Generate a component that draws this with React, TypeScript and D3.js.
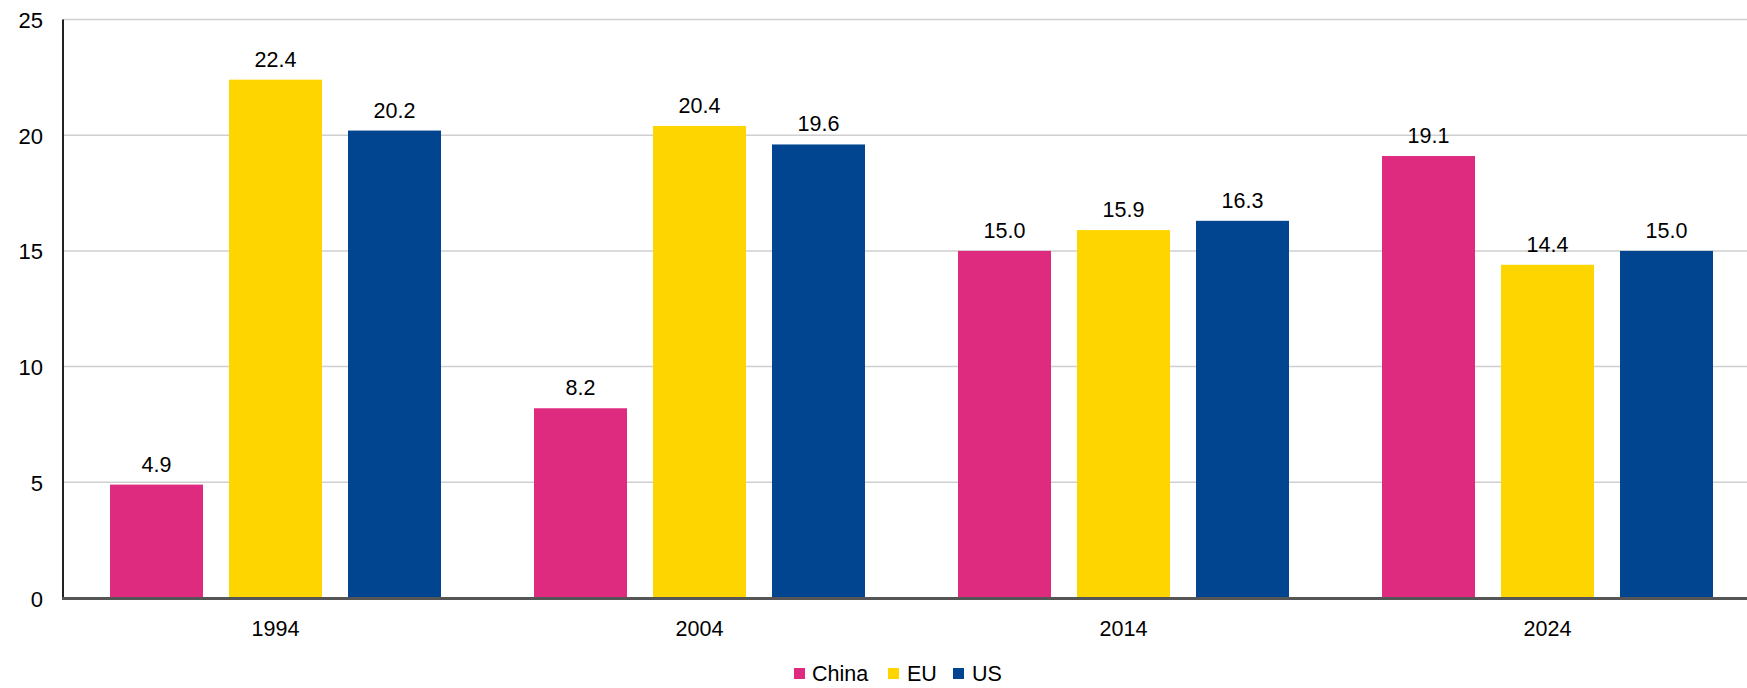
import React from "react";
import * as d3 from "d3";

const years = ["1994", "2004", "2014", "2024"];
const seriesNames = ["China", "EU", "US"];
const china = [4.9, 8.2, 15.0, 19.1];
const eu = [22.4, 20.4, 15.9, 14.4];
const us = [20.2, 19.6, 16.3, 15.0];
const yTicks = [0, 5, 10, 15, 20, 25];
const colors = ["#DE2A7F", "#FFD500", "#01448F"];

const W = 1747;
const H = 688;
const FONT = "'Liberation Sans', Arial, sans-serif";

export default function App() {
  const values = [china, eu, us];
  const x0 = d3.scaleBand<string>().domain(years).range([63.5, 1759.5]).paddingInner(0).paddingOuter(0);
  const groupW = 331;
  const x1 = d3.scaleBand<string>().domain(seriesNames).range([0, groupW]).paddingInner(26 / 119).paddingOuter(0);
  const y = d3.scaleLinear().domain([0, 25]).range([598, 19.5]);
  const plotLeft = 63;

  const legendItems = [
    { name: "China", sx: 794, tx: 812 },
    { name: "EU", sx: 888, tx: 907 },
    { name: "US", sx: 953, tx: 972 },
  ];

  return (
    <svg width={W} height={H} style={{ position: "absolute", left: 0, top: 0 }} fontFamily={FONT}>
      <rect width={W} height={H} fill="#fff" />
      {yTicks.filter((t) => t > 0).map((t) => (
        <line key={t} x1={plotLeft} x2={W} y1={y(t)} y2={y(t)} stroke="#cfcfcf" strokeWidth={1.5} />
      ))}
      {yTicks.map((t) => (
        <text key={t} x={43} y={y(t) + 1} textAnchor="end" dominantBaseline="central" fontSize={22} fill="#000">
          {t}
        </text>
      ))}
      {years.map((yr, i) => {
        const gx = x0(yr)! + (x0.bandwidth() - groupW) / 2;
        return (
          <g key={yr}>
            {seriesNames.map((s, j) => {
              const v = values[j][i];
              const bx = gx + x1(s)!;
              return (
                <g key={s}>
                  <rect x={bx} y={y(v)} width={x1.bandwidth()} height={y(0) - y(v)} fill={colors[j]} />
                  <text x={bx + x1.bandwidth() / 2} y={y(v) - 13} textAnchor="middle" fontSize={21.5} fill="#000">
                    {v.toFixed(1)}
                  </text>
                </g>
              );
            })}
            <text x={x0(yr)! + x0.bandwidth() / 2} y={636} textAnchor="middle" fontSize={21.5} fill="#000">
              {yr}
            </text>
          </g>
        );
      })}
      <line x1={plotLeft} x2={plotLeft} y1={19.5} y2={599} stroke="#222" strokeWidth={2} />
      <line x1={plotLeft - 1} x2={W} y1={598.5} y2={598.5} stroke="#555" strokeWidth={3} />
      {legendItems.map((it, j) => (
        <g key={it.name}>
          <rect x={it.sx} y={668} width={11} height={11} fill={colors[j]} />
          <text x={it.tx} y={681} fontSize={21.5} fill="#000">
            {it.name}
          </text>
        </g>
      ))}
    </svg>
  );
}
